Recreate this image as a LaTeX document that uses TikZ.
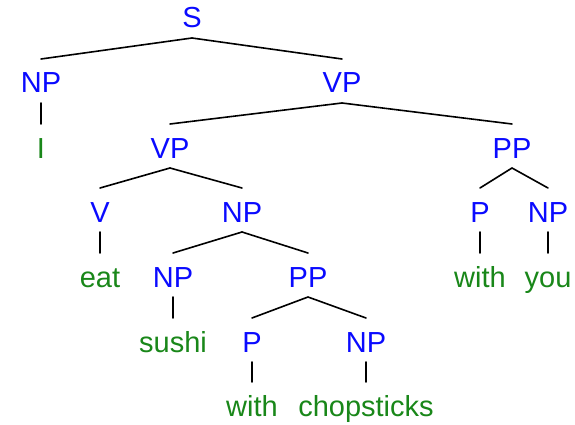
\documentclass[tikz,border=0pt]{standalone}
\usepackage{fontspec}
\setmainfont{Liberation Sans}
\definecolor{catblue}{RGB}{10,10,255}
\definecolor{wordgreen}{RGB}{25,135,25}
\begin{document}
\begin{tikzpicture}[x=1pt,y=-1pt,
  cat/.style={anchor=base,inner sep=0pt,text=catblue,font=\fontsize{29}{31}\selectfont},
  word/.style={anchor=base,inner sep=0pt,text=wordgreen,font=\fontsize{29}{31}\selectfont},
  edge/.style={draw=black,line width=1.6pt,line cap=round}]
\useasboundingbox (0,0) rectangle (575,425);
% categories and words, placed by baseline
\node[cat]  (s)    at (192,28)  {S};
\node[cat]  (np1)  at (41,93)   {NP};
\node[cat]  (vp1)  at (342,93)  {VP};
\node[word] (wi)   at (41,158)  {I};
\node[cat]  (vp2)  at (170,158) {VP};
\node[cat]  (pp1)  at (512,158) {PP};
\node[cat]  (v)    at (100,222) {V};
\node[cat]  (np2)  at (242,222) {NP};
\node[cat]  (p1)   at (480,222) {P};
\node[cat]  (np3)  at (548,222) {NP};
\node[word] (weat) at (100,287) {eat};
\node[cat]  (np4)  at (173,287) {NP};
\node[cat]  (pp2)  at (308,287) {PP};
\node[word] (wwith1) at (480,287) {with};
\node[word] (wyou) at (548,287) {you};
\node[word] (wsushi) at (173,352) {sushi};
\node[cat]  (p2)   at (252,352) {P};
\node[cat]  (np5)  at (366,352) {NP};
\node[word] (wwith2) at (252,416) {with};
\node[word] (wchop) at (366,416) {chopsticks};
% branches: from below the parent's baseline to above the child's cap height
\foreach \a/\b in {s/np1, s/vp1, np1/wi, vp1/vp2, vp1/pp1, vp2/v, vp2/np2,
                   pp1/p1, pp1/np3, v/weat, np2/np4, np2/pp2, p1/wwith1,
                   np3/wyou, np4/wsushi, pp2/p2, pp2/np5, p2/wwith2, np5/wchop}
  \draw[edge] ([yshift=-10pt]\a.base) -- ([yshift=34pt]\b.base);
\end{tikzpicture}
\end{document}
